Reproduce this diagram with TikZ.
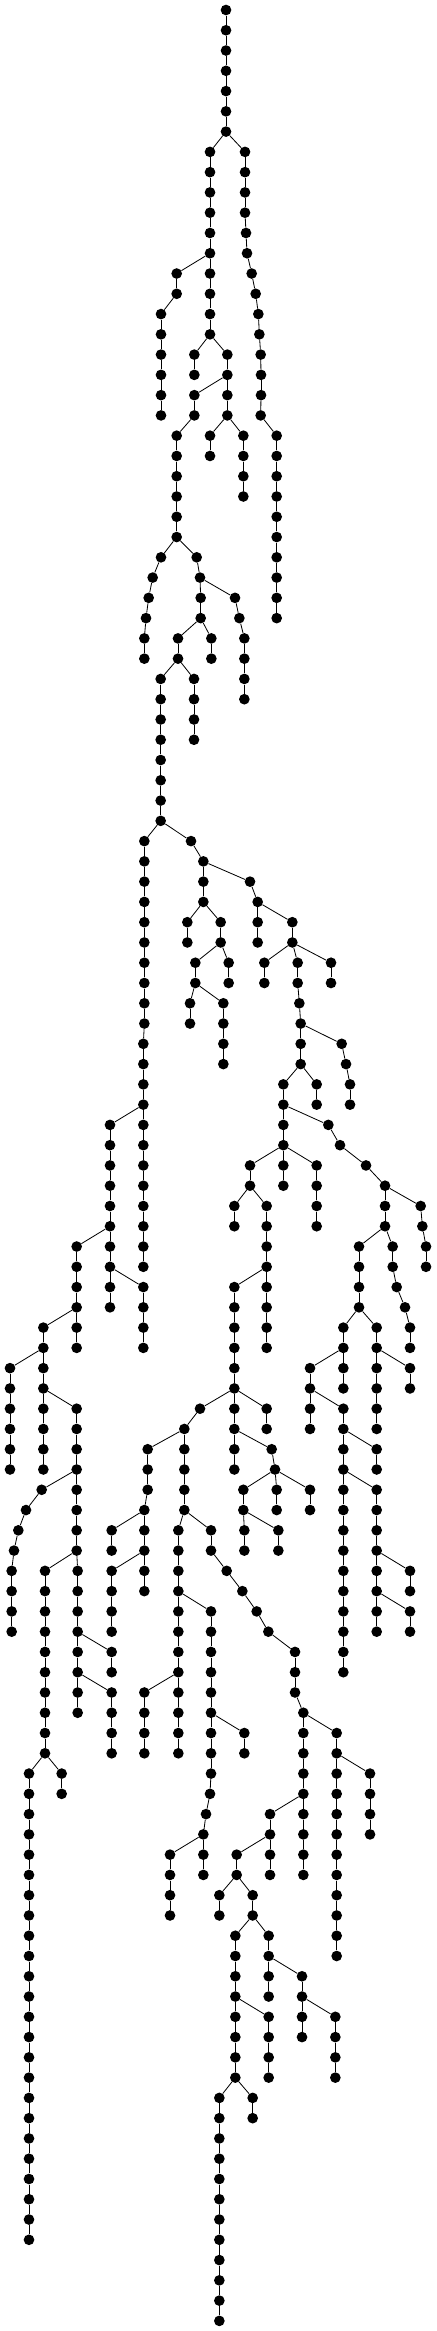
\documentclass[tikz,border=0pt]{standalone}
\usetikzlibrary{positioning}
\tikzset{
  vtx/.style={circle,fill=black,inner sep=0pt,minimum size=3.2mm},
  edge/.style={draw=black,line width=0.7pt}
}
\begin{document}
\begin{tikzpicture}[x=0.1mm,y=-6.081mm]
\useasboundingbox (0,-0.4934) rectangle (1308,114.5);
\node[vtx] (v0-678) at (678,0) {};
% level/x/parent-x, the parent sits one level up
\foreach \k/\x/\p in {
1/678/678, 2/678/678, 3/678/678, 4/678/678, 5/678/678, 6/678/678,
7/630/678, 7/735/678,
8/630/630, 8/735/735,
9/630/630, 9/735/735,
10/630/630, 10/735/735,
11/630/630, 11/738/735,
12/630/630, 12/741/738,
13/530/630, 13/630/630, 13/755/741,
14/530/530, 14/630/630, 14/767/755,
15/483/530, 15/630/630, 15/775/767,
16/483/483, 16/630/630, 16/778/775,
17/483/483, 17/583/630, 17/682/630, 17/782/778,
18/483/483, 18/583/583, 18/682/682, 18/783/782,
19/483/483, 19/583/682, 19/682/682, 19/783/783,
20/483/483, 20/583/583, 20/682/682, 20/782/783,
21/530/583, 21/630/682, 21/730/682, 21/830/782,
22/530/530, 22/630/630, 22/730/730, 22/830/830,
23/530/530, 23/730/730, 23/830/830,
24/530/530, 24/730/730, 24/830/830,
25/530/530, 25/830/830,
26/530/530, 26/830/830,
27/483/530, 27/590/530, 27/830/830,
28/458/483, 28/600/590, 28/830/830,
29/446/458, 29/602/600, 29/705/600, 29/830/830,
30/438/446, 30/602/602, 30/718/705, 30/830/830,
31/433/438, 31/534/602, 31/634/602, 31/733/718,
32/433/433, 32/534/534, 32/634/634, 32/733/733,
33/482/534, 33/582/534, 33/733/733,
34/482/482, 34/582/582, 34/733/733,
35/482/482, 35/582/582,
36/482/482, 36/582/582,
37/482/482, 38/482/482, 39/482/482, 40/482/482,
41/433/482, 41/573/482,
42/433/433, 42/610/573,
43/433/433, 43/610/610, 43/750/610,
44/433/433, 44/610/610, 44/773/750,
45/433/433, 45/562/610, 45/662/610, 45/773/773, 45/877/773,
46/433/433, 46/562/562, 46/662/662, 46/773/773, 46/877/877,
47/433/433, 47/586/662, 47/686/662, 47/793/877, 47/893/877, 47/993/877,
48/433/433, 48/586/586, 48/686/686, 48/793/793, 48/893/893, 48/993/993,
49/433/433, 49/570/586, 49/670/586, 49/898/893,
50/433/433, 50/570/570, 50/670/670, 50/902/898,
51/430/433, 51/670/670, 51/902/902, 51/1025/902,
52/430/430, 52/670/670, 52/902/902, 52/1038/1025,
53/430/430, 53/850/902, 53/950/902, 53/1050/1038,
54/430/430, 54/850/850, 54/950/950, 54/1050/1050,
55/330/430, 55/430/430, 55/850/850, 55/985/850,
56/330/330, 56/430/430, 56/850/850, 56/1020/985,
57/330/330, 57/430/430, 57/750/850, 57/850/850, 57/950/850, 57/1098/1020,
58/330/330, 58/430/430, 58/750/750, 58/850/850, 58/950/950, 58/1155/1098,
59/330/330, 59/430/430, 59/703/750, 59/800/750, 59/950/950, 59/1155/1155, 59/1262/1155,
60/330/330, 60/430/430, 60/703/703, 60/800/800, 60/950/950, 60/1155/1155, 60/1267/1262,
61/230/330, 61/330/330, 61/430/430, 61/800/800, 61/1077/1155, 61/1178/1155, 61/1278/1267,
62/230/230, 62/330/330, 62/430/430, 62/800/800, 62/1077/1077, 62/1178/1178, 62/1278/1278,
63/230/230, 63/330/330, 63/430/330, 63/703/800, 63/800/800, 63/1077/1077, 63/1190/1178,
64/230/230, 64/330/330, 64/430/430, 64/703/703, 64/800/800, 64/1077/1077, 64/1215/1190,
65/130/230, 65/230/230, 65/430/430, 65/703/703, 65/800/800, 65/1030/1077, 65/1130/1077, 65/1230/1215,
66/130/130, 66/230/230, 66/430/430, 66/703/703, 66/800/800, 66/1030/1030, 66/1130/1130, 66/1230/1230,
67/30/130, 67/130/130, 67/703/703, 67/930/1030, 67/1030/1030, 67/1130/1130, 67/1230/1130,
68/30/30, 68/130/130, 68/703/703, 68/930/930, 68/1030/1030, 68/1130/1130, 68/1230/1230,
69/30/30, 69/130/130, 69/230/130, 69/600/703, 69/703/703, 69/800/703, 69/930/930, 69/1030/930, 69/1130/1130,
70/30/30, 70/130/130, 70/230/230, 70/553/600, 70/703/703, 70/800/800, 70/930/930, 70/1030/1030, 70/1130/1130,
71/30/30, 71/130/130, 71/230/230, 71/443/553, 71/553/553, 71/703/703, 71/815/703, 71/1030/1030, 71/1130/1030,
72/30/30, 72/130/130, 72/230/230, 72/443/443, 72/553/553, 72/703/703, 72/825/815, 72/1030/1030, 72/1130/1130,
73/125/230, 73/230/230, 73/443/443, 73/553/553, 73/730/825, 73/830/825, 73/930/825, 73/1030/1030, 73/1130/1030,
74/78/125, 74/230/230, 74/433/443, 74/553/553, 74/730/730, 74/830/830, 74/930/930, 74/1030/1030, 74/1130/1130,
75/55/78, 75/230/230, 75/335/433, 75/433/433, 75/535/553, 75/633/553, 75/733/730, 75/835/730, 75/1030/1030, 75/1130/1130,
76/42/55, 76/230/230, 76/335/335, 76/433/433, 76/535/535, 76/633/633, 76/733/733, 76/835/835, 76/1030/1030, 76/1130/1130,
77/35/42, 77/135/230, 77/233/230, 77/335/433, 77/433/433, 77/535/535, 77/680/633, 77/1030/1030, 77/1130/1130, 77/1230/1130,
78/35/35, 78/135/135, 78/233/233, 78/335/335, 78/433/433, 78/535/535, 78/727/680, 78/1030/1030, 78/1130/1130, 78/1230/1230,
79/35/35, 79/135/135, 79/233/233, 79/335/335, 79/535/535, 79/633/535, 79/770/727, 79/1030/1030, 79/1130/1130, 79/1230/1130,
80/35/35, 80/135/135, 80/233/233, 80/335/335, 80/535/535, 80/633/633, 80/805/770, 80/1030/1030, 80/1130/1130, 80/1230/1230,
81/135/135, 81/233/233, 81/335/233, 81/535/535, 81/633/633, 81/885/805, 81/1030/1030,
82/135/135, 82/233/233, 82/335/335, 82/535/535, 82/633/633, 82/885/885, 82/1030/1030,
83/135/135, 83/233/233, 83/335/233, 83/433/535, 83/535/535, 83/633/633, 83/885/885,
84/135/135, 84/233/233, 84/335/335, 84/433/433, 84/535/535, 84/633/633, 84/910/885,
85/135/135, 85/335/335, 85/433/433, 85/535/535, 85/633/633, 85/733/633, 85/910/910, 85/1010/910,
86/135/135, 86/335/335, 86/433/433, 86/535/535, 86/633/633, 86/733/733, 86/910/910, 86/1010/1010,
87/87/135, 87/185/135, 87/633/633, 87/910/910, 87/1010/1010, 87/1110/1010,
88/87/87, 88/185/185, 88/630/633, 88/910/910, 88/1010/1010, 88/1110/1110,
89/87/87, 89/618/630, 89/810/910, 89/910/910, 89/1010/1010, 89/1110/1110,
90/87/87, 90/610/618, 90/810/810, 90/910/910, 90/1010/1010, 90/1110/1110,
91/87/87, 91/510/610, 91/610/610, 91/710/810, 91/810/810, 91/910/910, 91/1010/1010,
92/87/87, 92/510/510, 92/610/610, 92/710/710, 92/810/810, 92/910/910, 92/1010/1010,
93/87/87, 93/510/510, 93/658/710, 93/758/710, 93/1010/1010,
94/87/87, 94/510/510, 94/658/658, 94/758/758, 94/1010/1010,
95/87/87, 95/706/758, 95/806/758, 95/1010/1010,
96/87/87, 96/706/706, 96/806/806, 96/1010/1010,
97/87/87, 97/706/706, 97/806/806, 97/906/806,
98/87/87, 98/706/706, 98/806/806, 98/906/906,
99/87/87, 99/706/706, 99/806/706, 99/906/906, 99/1006/906,
100/87/87, 100/706/706, 100/806/806, 100/906/906, 100/1006/1006,
101/87/87, 101/706/706, 101/806/806, 101/1006/1006,
102/87/87, 102/706/706, 102/806/806, 102/1006/1006,
103/87/87, 103/658/706, 103/758/706,
104/87/87, 104/658/658, 104/758/758,
105/87/87, 105/658/658,
106/87/87, 106/658/658,
107/87/87, 107/658/658,
108/87/87, 108/658/658,
109/87/87, 109/658/658,
110/87/87, 110/658/658,
111/658/658, 112/658/658, 113/658/658, 114/658/658}{
  \pgfmathtruncatemacro{\pk}{\k-1}
  \node[vtx] (v\k-\x) at (\x,\k) {};
  \draw[edge] (v\pk-\p) -- (v\k-\x);
}
\end{tikzpicture}
\end{document}
